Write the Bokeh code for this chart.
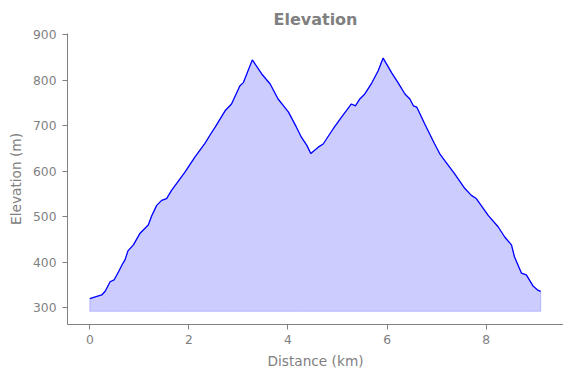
from bokeh.plotting import figure
from bokeh.models import Range1d, FixedTicker
from bokeh.embed import file_html
from bokeh.resources import INLINE

# Distance along the route (km) and elevation (m)
distance_km = [0.00, 0.24, 0.31, 0.41, 0.49, 0.58, 0.66, 0.71, 0.77, 0.88,
               1.01, 1.18, 1.25, 1.35, 1.45, 1.55, 1.65, 1.92, 2.12, 2.32,
               2.44, 2.53, 2.73, 2.86, 3.03, 3.10, 3.28, 3.47, 3.64, 3.80,
               3.91, 4.01, 4.17, 4.27, 4.38, 4.46, 4.61, 4.71, 4.91, 5.08,
               5.28, 5.36, 5.45, 5.55, 5.69, 5.82, 5.92, 6.09, 6.22, 6.36,
               6.46, 6.53, 6.60, 6.76, 6.96, 7.06, 7.16, 7.36, 7.57, 7.70,
               7.80, 8.04, 8.24, 8.37, 8.51, 8.57, 8.71, 8.81, 8.95, 9.05,
               9.10]
elevation_m = [320, 328, 336, 357, 361, 379, 396, 405, 425, 438,
               463, 482, 502, 525, 536, 540, 558, 598, 631, 661,
               682, 697, 733, 748, 788, 795, 845, 814, 792, 759,
               744, 730, 697, 675, 657, 639, 653, 660, 693, 719,
               748, 744, 759, 770, 794, 821, 849, 817, 795, 770,
               759, 744, 741, 704, 660, 639, 624, 595, 562, 547,
               540, 503, 478, 456, 438, 412, 376, 372, 347, 338,
               336]
baseline_m = 292
x_ticks = [0, 2, 4, 6, 8]
y_ticks = [300, 400, 500, 600, 700, 800, 900]

TXT = "#808080"
FONT = "DejaVu Sans"

p = figure(width=563, height=371, output_backend="svg", toolbar_location=None,
           x_range=Range1d(-0.45, 9.56), y_range=Range1d(263, 903),
           min_border_left=67, min_border_right=0, min_border_top=33,
           min_border_bottom=46, title="Elevation")
p.background_fill_color = "white"
p.border_fill_color = "white"
p.outline_line_color = None
p.grid.visible = False

p.title.align = "center"
p.title.text_font = FONT
p.title.text_font_size = "16px"
p.title.text_font_style = "bold"
p.title.text_color = TXT
p.title.standoff = 9

poly_x = distance_km + distance_km[::-1]
poly_y = elevation_m + [baseline_m] * len(distance_km)
p.patch(poly_x, poly_y, fill_color="blue", fill_alpha=0.2,
        line_color="blue", line_alpha=0.2, line_width=1)
p.line(distance_km, elevation_m, line_color="blue", line_width=1.3)

p.xaxis.ticker = FixedTicker(ticks=x_ticks)
p.yaxis.ticker = FixedTicker(ticks=y_ticks)
p.xaxis.axis_label = "Distance (km)"
p.yaxis.axis_label = "Elevation (m)"
for ax in (p.xaxis, p.yaxis):
    ax.axis_line_color = TXT
    ax.major_tick_line_color = TXT
    ax.major_tick_out = 5
    ax.major_tick_in = 0
    ax.minor_tick_out = 0
    ax.minor_tick_in = 0
    ax.major_label_text_font = FONT
    ax.major_label_text_font_size = "12.3px"
    ax.major_label_text_color = TXT
    ax.axis_label_text_font = FONT
    ax.axis_label_text_font_size = "13.7px"
    ax.axis_label_text_font_style = "normal"
    ax.axis_label_text_color = TXT
p.xaxis.major_label_standoff = 5
p.yaxis.major_label_standoff = 6
p.xaxis.axis_label_standoff = 6
p.yaxis.axis_label_standoff = 6

open("out.html", "w").write(file_html(p, INLINE))
